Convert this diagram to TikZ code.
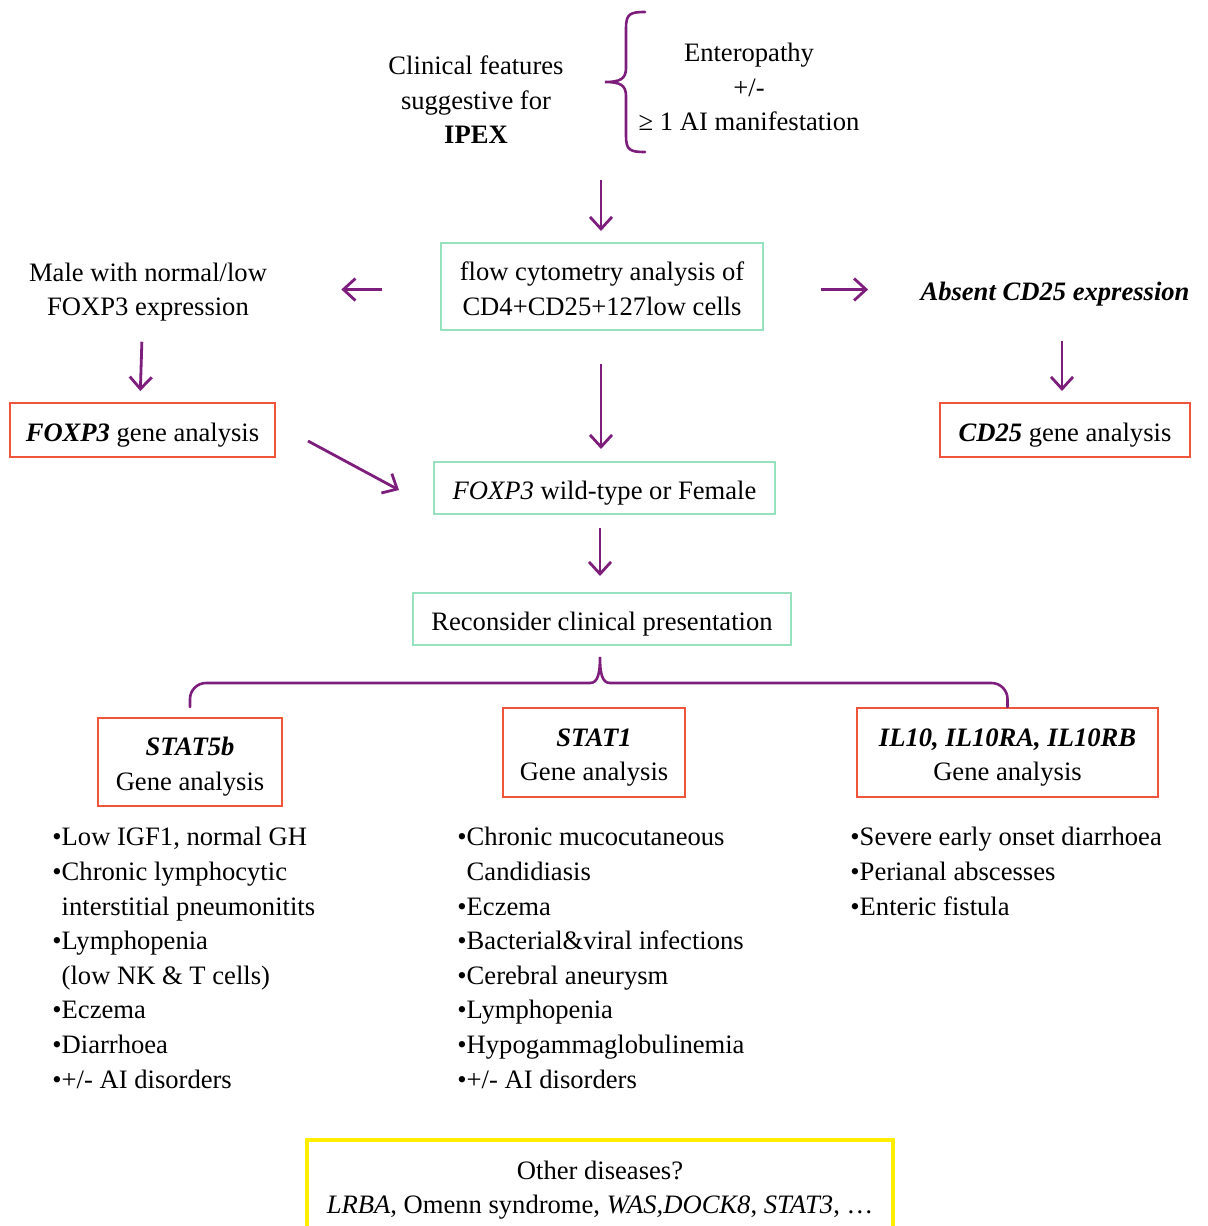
\documentclass[tikz,border=0pt]{standalone}
\usepackage{fontspec}
\setmainfont{Liberation Serif}
\usepackage{xcolor}
\usepackage{tikz}
\definecolor{arrowpurple}{RGB}{125, 30, 125}
\definecolor{boxgreen}{RGB}{150, 225, 190}
\definecolor{boxred}{RGB}{240, 85, 60}
\definecolor{boxyellow}{RGB}{255, 238, 0}
\usetikzlibrary{arrows.meta, positioning, calc}

\begin{document}
\begin{tikzpicture}[
    x=0.5pt, y=-0.5pt,
    font=\fontsize{13.3}{17.3}\selectfont,
    >={Straight Barb[length=6pt,width=11pt]},
    arrow/.style={->, line width=1.4pt, arrowpurple},
    brace/.style={line width=1.3pt, arrowpurple, line cap=round},
    label/.style={inner sep=0pt, align=center},
    lift/.style={execute at begin node={\rule{0pt}{#1}}},
    lift/.default=14pt,
    flowbox/.style={rectangle, draw=boxgreen, line width=1pt, align=center, lift},
    genebox/.style={rectangle, draw=boxred, line width=1pt, align=center, lift},
    symptoms/.style={inner sep=0pt, align=left, anchor=north west}
]
    \useasboundingbox (0,0) rectangle (1208,1226);

    % clinical suspicion
    \node[label] (clin) at (476,100) {Clinical features\\suggestive for\\\textbf{IPEX}};
    \node[label] (feat) at (749,87) {Enteropathy\\+/-\\≥ 1 AI manifestation};
    \draw[brace] (645,12) .. controls (630,12) and (626,14) .. (626,28) -- (626,68)
        .. controls (626,79) and (620,82) .. (605,82)
        .. controls (620,82) and (626,85) .. (626,96) -- (626,136)
        .. controls (626,150) and (630,152) .. (645,152);

    % first level
    \node[flowbox, lift=29pt, minimum width=161pt, minimum height=43.5pt] (flow) at (602,286.5) {flow cytometry analysis of\\CD4+CD25+127low cells};
    \node[label] (male) at (148,292) {Male with normal/low\\FOXP3 expression};
    \node[label] (absent) at (1055,294) {\textbf{\textit{Absent CD25 expression}}};

    \node[genebox, minimum width=132.5pt, minimum height=27pt] (foxbox) at (142.5,430) {\textbf{\textit{FOXP3}} gene analysis};
    \node[genebox, minimum width=125pt, minimum height=27pt] (cdbox) at (1065,430) {\textbf{\textit{CD25}} gene analysis};
    \node[flowbox, minimum width=170.5pt, minimum height=26pt] (wild) at (604.5,488) {\textit{FOXP3} wild-type or Female};
    \node[flowbox, minimum width=189pt, minimum height=26pt] (recon) at (602,619) {Reconsider clinical presentation};

    \coordinate (topstart) at (601,180);
    \draw[arrow, shorten >=5.5pt] (topstart) -- (topstart |- flow.north);
    \draw[arrow, shorten <=29pt, shorten >=37pt] ([yshift=-1.5pt]flow.west) -- ([yshift=-1.5pt]flow.west -| male.east);
    \draw[arrow, shorten <=28.5pt, shorten >=26pt] ([yshift=-1.5pt]flow.east) -- ([yshift=-1.5pt]flow.east -| absent.west);
    \draw[arrow, shorten <=10pt, shorten >=5.5pt] (foxbox.north |- male.south) -- ([xshift=-1.25pt]foxbox.north);
    \draw[arrow, shorten <=17.5pt, shorten >=5.5pt] ([xshift=-1.5pt]cdbox.north |- absent.south) -- ([xshift=-1.5pt]cdbox.north);
    \draw[arrow, shorten <=16.5pt, shorten >=6pt] ([xshift=-0.5pt]flow.south) -- ([xshift=-0.5pt]flow.south |- wild.north);
    \draw[arrow] ($(foxbox.east)+(32,11)$) -- ($(wild.west)+(-34,2)$);
    \draw[arrow, shorten <=6.5pt, shorten >=8pt] ([xshift=-1pt]recon.north |- wild.south) -- ([xshift=-1pt]recon.north);

    % candidate genes
    \node[genebox, lift=31.3pt, minimum width=92pt, minimum height=44pt] (stat5) at (190,762) {\textbf{\textit{STAT5b}}\\Gene analysis};
    \node[genebox, lift=31.3pt, minimum width=91pt, minimum height=44.5pt] (stat1) at (594,752.5) {\textbf{\textit{STAT1}}\\Gene analysis};
    \node[genebox, lift=31.3pt, minimum width=150.5pt, minimum height=44.5pt] (il10) at (1007.5,752.5) {\textbf{\textit{IL10, IL10RA, IL10RB}}\\Gene analysis};

    \coordinate (tip) at ($(recon.south)+(-2,11)$);
    \draw[brace, rounded corners=8pt] ($(stat5.north)+(0,-10)$) |- ($(tip)+(-10,26)$);
    \draw[brace] ($(tip)+(-10,26)$) .. controls ($(tip)+(-2,26)$) and ($(tip)+(0,16)$) .. (tip)
        .. controls ($(tip)+(0,16)$) and ($(tip)+(2,26)$) .. ($(tip)+(10,26)$);
    \draw[brace, rounded corners=8pt] ($(tip)+(10,26)$) -| (il10.north);

    % clinical clues
    \node[symptoms] (list5) at (52,827) {•Low IGF1, normal GH\\•Chronic lymphocytic\\\phantom{•}interstitial pneumonitits\\•Lymphopenia\\\phantom{•}(low NK \& T cells)\\•Eczema\\•Diarrhoea\\•+/- AI disorders};
    \node[symptoms] (list1) at (457,827) {•Chronic mucocutaneous\\\phantom{•}Candidiasis\\•Eczema\\•Bacterial\&viral infections\\•Cerebral aneurysm\\•Lymphopenia\\•Hypogammaglobulinemia\\•+/- AI disorders};
    \node[symptoms] (list10) at (850,827) {•Severe early onset diarrhoea\\•Perianal abscesses\\•Enteric fistula};

    % other diseases
    \node[rectangle, draw=boxyellow, line width=2pt, minimum width=293pt, minimum height=50pt, align=center] (other) at (600,1190) {Other diseases?\\\textit{LRBA}, Omenn syndrome, \textit{WAS,DOCK8}, \textit{STAT3}, …};
\end{tikzpicture}
\end{document}
